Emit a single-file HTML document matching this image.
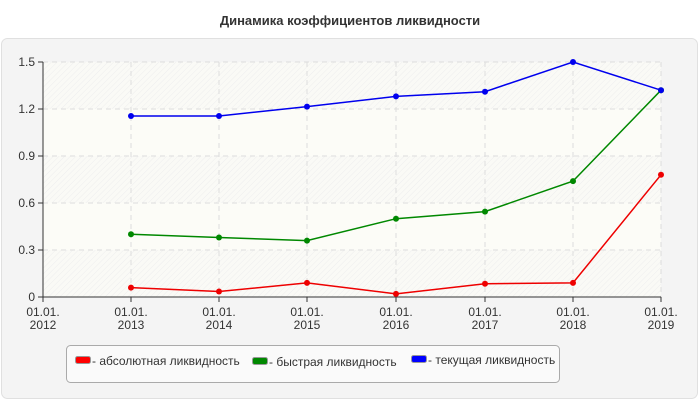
<!DOCTYPE html>
<html><head><meta charset="utf-8"><style>
body{margin:0;background:#fff;width:700px;height:400px;overflow:hidden;font-family:"Liberation Sans",sans-serif}
</style></head><body>
<svg width="700" height="400" xmlns="http://www.w3.org/2000/svg" font-family="Liberation Sans, sans-serif">
<defs><pattern id="h" width="4" height="4" patternUnits="userSpaceOnUse" patternTransform="rotate(45)"><rect width="4" height="4" fill="#fafaf6"/><line x1="0" y1="0" x2="0" y2="4" stroke="#eeeeee" stroke-width="1"/></pattern></defs>
<text x="350" y="25" text-anchor="middle" font-size="13" font-weight="bold" fill="#333">Динамика коэффициентов ликвидности</text>
<rect x="1.5" y="38.5" width="696" height="360" rx="6" fill="#f4f4f4" stroke="#e0e0e0"/>
<rect x="43" y="62" width="618" height="235" fill="url(#h)"/>
<rect x="43" y="109" width="618" height="47" fill="#fcfcf7"/>
<rect x="43" y="203" width="618" height="47" fill="#fcfcf7"/>
<g stroke="#ddd" stroke-dasharray="5,4">
<line x1="43" y1="62" x2="661" y2="62"/><line x1="43" y1="109" x2="661" y2="109"/><line x1="43" y1="156" x2="661" y2="156"/><line x1="43" y1="203" x2="661" y2="203"/><line x1="43" y1="250" x2="661" y2="250"/>
<line x1="131" y1="62" x2="131" y2="297"/><line x1="219" y1="62" x2="219" y2="297"/><line x1="307" y1="62" x2="307" y2="297"/><line x1="396" y1="62" x2="396" y2="297"/><line x1="485" y1="62" x2="485" y2="297"/><line x1="573" y1="62" x2="573" y2="297"/><line x1="661" y1="62" x2="661" y2="297"/>
</g>
<g stroke="#333"><line x1="43" y1="62" x2="43" y2="297"/><line x1="43" y1="297" x2="661" y2="297"/>
<line x1="38" y1="62" x2="43" y2="62"/><line x1="38" y1="109" x2="43" y2="109"/><line x1="38" y1="156" x2="43" y2="156"/><line x1="38" y1="203" x2="43" y2="203"/><line x1="38" y1="250" x2="43" y2="250"/><line x1="38" y1="297" x2="43" y2="297"/>
<line x1="43" y1="297" x2="43" y2="302"/><line x1="131" y1="297" x2="131" y2="302"/><line x1="219" y1="297" x2="219" y2="302"/><line x1="307" y1="297" x2="307" y2="302"/><line x1="396" y1="297" x2="396" y2="302"/><line x1="485" y1="297" x2="485" y2="302"/><line x1="573" y1="297" x2="573" y2="302"/><line x1="661" y1="297" x2="661" y2="302"/></g>
<g font-size="12" fill="#333" text-anchor="end">
<text x="35" y="66">1.5</text><text x="35" y="113">1.2</text><text x="35" y="160">0.9</text><text x="35" y="207">0.6</text><text x="35" y="254">0.3</text><text x="35" y="301">0</text></g>
<g font-size="12" fill="#333" text-anchor="middle">
<text x="43" y="316">01.01.</text><text x="43" y="329">2012</text>
<text x="131" y="316">01.01.</text><text x="131" y="329">2013</text>
<text x="219" y="316">01.01.</text><text x="219" y="329">2014</text>
<text x="307" y="316">01.01.</text><text x="307" y="329">2015</text>
<text x="396" y="316">01.01.</text><text x="396" y="329">2016</text>
<text x="485" y="316">01.01.</text><text x="485" y="329">2017</text>
<text x="573" y="316">01.01.</text><text x="573" y="329">2018</text>
<text x="661" y="316">01.01.</text><text x="661" y="329">2019</text></g>
<g stroke-width="1.5" fill="none">
<polyline stroke="#e00" points="131,287.6 219,291.5 307,282.9 396,293.9 485,283.7 573,282.9 661,174.8"/>
<polyline stroke="#080" points="131,234.3 219,237.5 307,240.6 396,218.7 485,211.6 573,181.1 661,90.2"/>
<polyline stroke="#00e" points="131,116.0 219,116.0 307,106.6 396,96.4 485,91.7 573,62 661,90.2"/>
</g>
<g fill="#e00"><circle cx="131" cy="287.6" r="3"/><circle cx="219" cy="291.5" r="3"/><circle cx="307" cy="282.9" r="3"/><circle cx="396" cy="293.9" r="3"/><circle cx="485" cy="283.7" r="3"/><circle cx="573" cy="282.9" r="3"/><circle cx="661" cy="174.8" r="3"/></g>
<g fill="#080"><circle cx="131" cy="234.3" r="3"/><circle cx="219" cy="237.5" r="3"/><circle cx="307" cy="240.6" r="3"/><circle cx="396" cy="218.7" r="3"/><circle cx="485" cy="211.6" r="3"/><circle cx="573" cy="181.1" r="3"/><circle cx="661" cy="90.2" r="3"/></g>
<g fill="#00e"><circle cx="131" cy="116" r="3"/><circle cx="219" cy="116" r="3"/><circle cx="307" cy="106.6" r="3"/><circle cx="396" cy="96.4" r="3"/><circle cx="485" cy="91.7" r="3"/><circle cx="573" cy="62" r="3"/><circle cx="661" cy="90.2" r="3"/></g>
<rect x="66.5" y="345.5" width="493" height="37" rx="4" fill="#fafafa" stroke="#aaa"/>
<rect x="75.5" y="356.5" width="15" height="7" rx="2" fill="#f00" stroke="#999"/>
<rect x="252.5" y="357.5" width="15" height="7" rx="2" fill="#080" stroke="#999"/>
<rect x="411.5" y="355.5" width="15" height="7" rx="2" fill="#00f" stroke="#999"/>
<g font-size="12" fill="#333"><text x="92" y="365">- абсолютная ликвидность</text><text x="269" y="366">- быстрая ликвидность</text><text x="428" y="364">- текущая ликвидность</text></g>
</svg>
</body></html>
